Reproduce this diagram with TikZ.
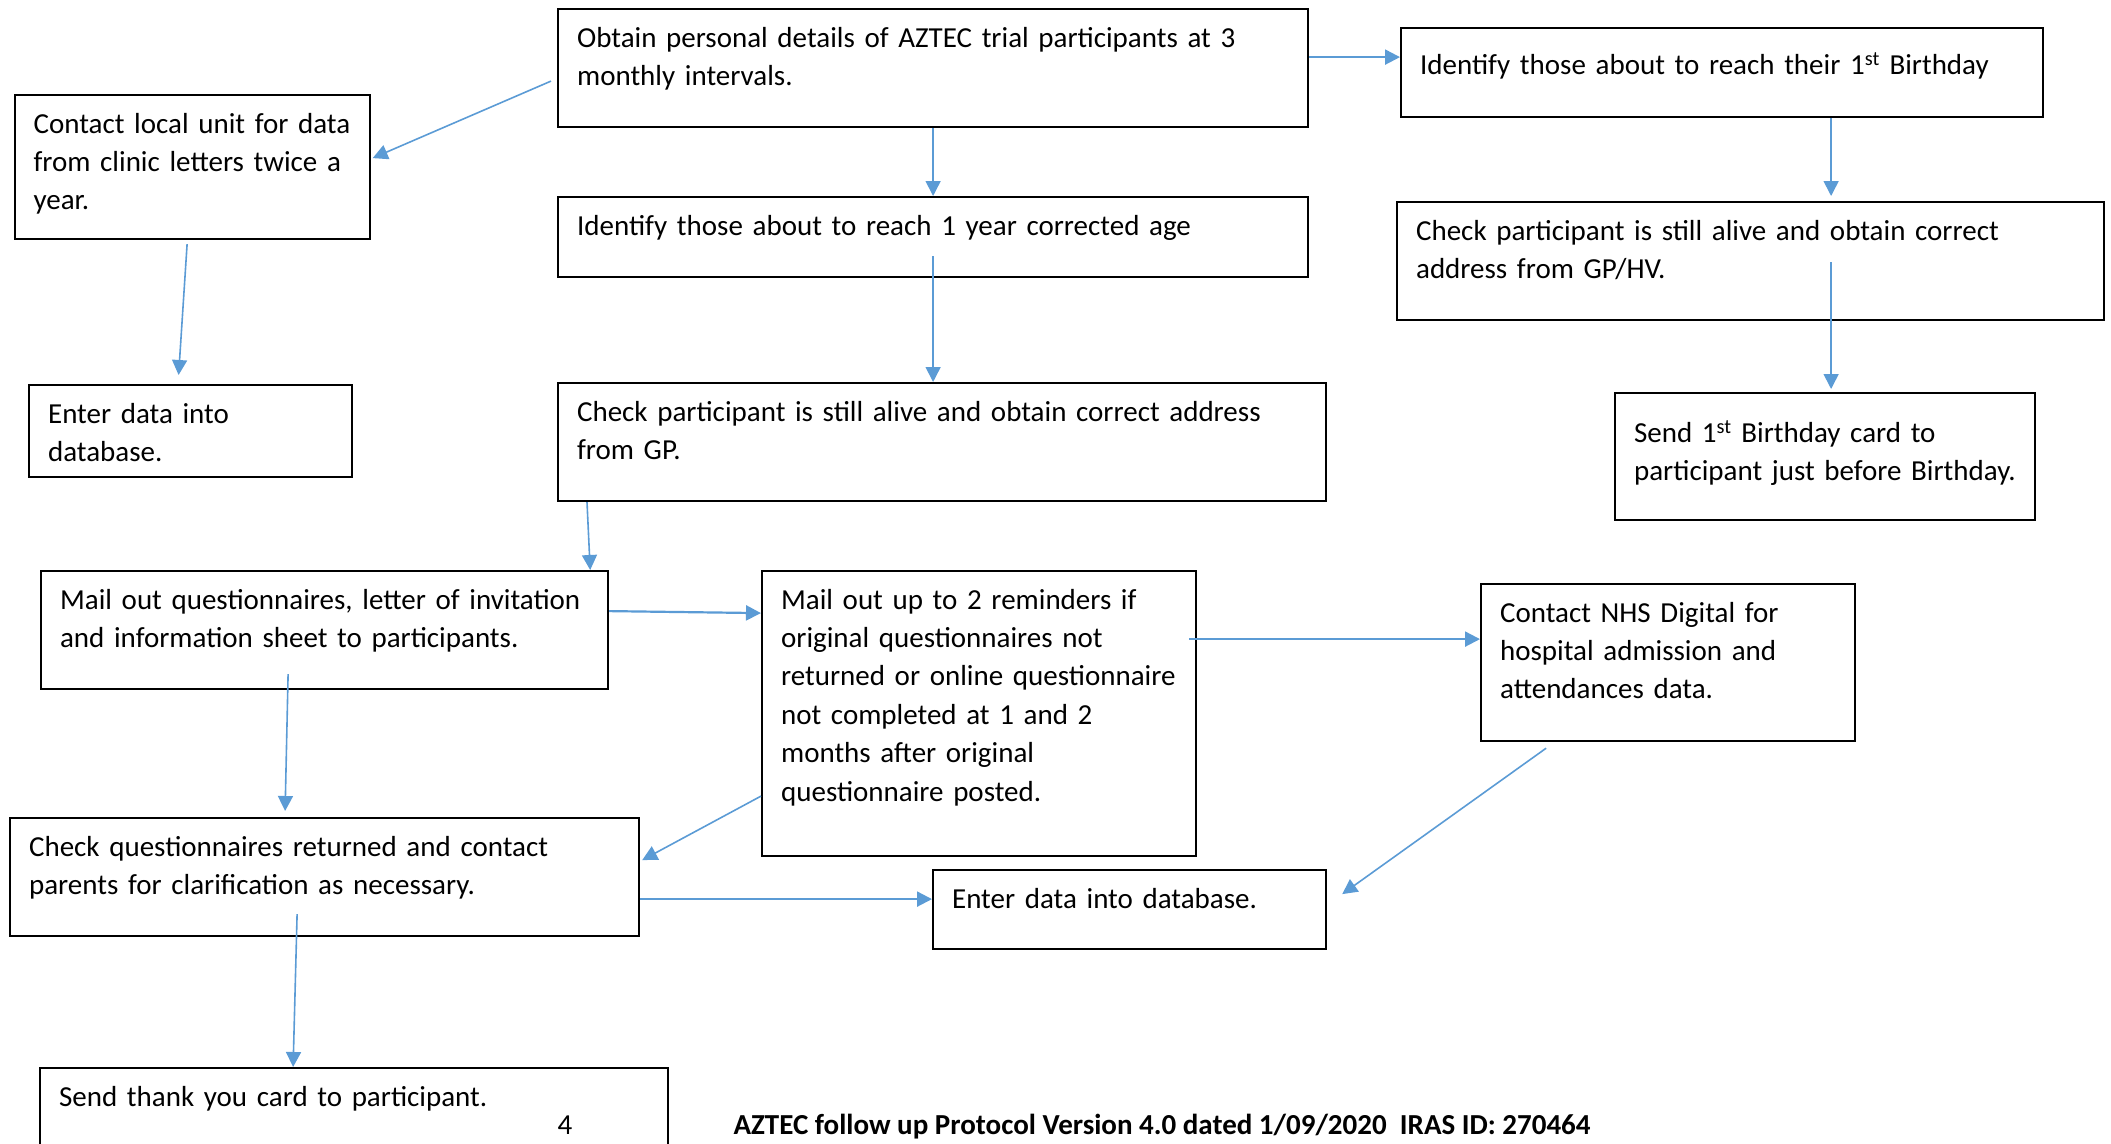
\documentclass[tikz,border=0pt]{standalone}
\usepackage{fontspec}
\setmainfont{Carlito}
\usepackage{tikz}
\usetikzlibrary{arrows.meta,calc}
\definecolor{cflow}{RGB}{91,155,213}

\begin{document}
\begin{tikzpicture}[x=1pt,y=-1pt,
  font=\fontsize{29}{38.4}\selectfont,
  box/.style={draw=black,line width=2.2pt,anchor=north west,align=left,
    inner xsep=19pt,inner ysep=14pt,text height=24pt},
  flow/.style={-{Triangle[length=15pt,width=15pt]},cflow,line width=1.6pt},
  bigflow/.style={flow,line width=2.2pt},
]
\useasboundingbox (0,0) rectangle (2111,1143);
\clip (0,0) rectangle (2111,1143);

% middle column
\node[box,text width=712pt,text depth=66pt] (obtain) at (557,8)
  {Obtain personal details of AZTEC trial participants at 3\\monthly intervals.};
\node[box,text width=712pt,text depth=28pt] (ident1yr) at (557,196)
  {Identify those about to reach 1 year corrected age};
\node[box,text width=730pt,text depth=66pt] (checkgp) at (557,382)
  {Check participant is still alive and obtain correct address\\from GP.};

% left column
\node[box,text width=317pt,text depth=92pt] (contact) at (13.5,94)
  {Contact local unit for data\\from clinic letters twice a\\year.};
\node[box,text width=285pt,text depth=40pt] (enterl) at (28,384)
  {Enter data into\\database.};

% birthday column
\node[box,text width=604pt,text height=32pt,text depth=29pt] (ident1st) at (1400,27)
  {Identify those about to reach their 1\textsuperscript{st} Birthday};
\node[box,text width=669pt,text depth=66pt] (checkhv) at (1396,201)
  {Check participant is still alive and obtain correct\\address from GP/HV.};
\node[box,text width=382pt,text height=35pt,text depth=64pt] (bday) at (1614,392)
  {Send 1\textsuperscript{st} Birthday card to\\participant just before Birthday.};

% questionnaires
\node[box,text width=529pt,text depth=66pt] (mailq) at (40,570)
  {Mail out questionnaires, letter of invitation\\and information sheet to participants.};
\node[box,text width=396pt,text depth=233pt] (remind) at (761,570)
  {Mail out up to 2 reminders if\\original questionnaires not\\returned or online questionnaire\\not completed at 1 and 2\\months after original\\questionnaire posted.};
\node[box,text width=336pt,text depth=105pt] (nhs) at (1480,583)
  {Contact NHS Digital for\\hospital admission and\\attendances data.};
\node[box,text width=591pt,text depth=66pt] (checkq) at (9,817)
  {Check questionnaires returned and contact\\parents for clarification as necessary.};
\node[box,text width=355pt,text depth=27pt] (enterc) at (932,869)
  {Enter data into database.};
\node[box,text width=590pt,text depth=58pt] (thanks) at (39,1067)
  {Send thank you card to participant.};

% footer
\node[anchor=base] (pagenum) at (565,1134) {4};
\node[anchor=base west,font=\fontsize{29}{38.4}\selectfont\bfseries] (footer) at (730,1134)
  {AZTEC follow up Protocol Version 4.0 dated 1/09/2020\ \ IRAS ID: 270464};

% arrows
\coordinate (o1) at ([yshift=11pt]obtain.east);
\coordinate (r1) at ([xshift=-8pt,yshift=74.5pt]remind.east);
\coordinate (q1) at ([yshift=-22pt]checkq.east);
\draw[flow] ([xshift=-6pt,yshift=-13pt]obtain.west) -- ([xshift=2pt,yshift=9pt]contact.east);
\draw[flow] ([xshift=-5pt,yshift=-4pt]contact.south) -- ([xshift=-12pt,yshift=9pt]enterl.north);
\draw[flow] (obtain) -- (ident1yr);
\draw[flow] ([yshift=22pt]ident1yr.south) -- ([xshift=-9pt]checkgp.north);
\draw[flow] ([xshift=30pt]checkgp.south west) -- ([xshift=-19pt]mailq.north east);
\draw[bigflow] (o1) -- (o1 -| ident1st.west);
\draw[flow] ([xshift=109pt]ident1st.south) -- ([xshift=80.5pt,yshift=5pt]checkhv.north);
\draw[flow] ([xshift=80.5pt,yshift=59pt]checkhv.south) -- ([xshift=6pt,yshift=3pt]bday.north);
\draw[bigflow] ([yshift=19pt]mailq.east) -- ([yshift=100.5pt]remind.west);
\draw[flow] ([xshift=-36.5pt,yshift=16pt]mailq.south) -- ([xshift=-39.5pt,yshift=6pt]checkq.north);
\draw[flow] ([yshift=-82.5pt]remind.west) -- ([xshift=2pt,yshift=17pt]checkq.east);
\draw[bigflow] (q1) -- (q1 -| enterc.west);
\draw[flow] ([xshift=-27.5pt,yshift=23pt]checkq.south) -- ([xshift=-61pt]thanks.north);
\draw[bigflow] (r1) -- (r1 -| nhs.west);
\draw[flow] ([xshift=-122pt,yshift=-6pt]nhs.south) -- ([xshift=15pt,yshift=15.5pt]enterc.east);
\end{tikzpicture}
\end{document}
